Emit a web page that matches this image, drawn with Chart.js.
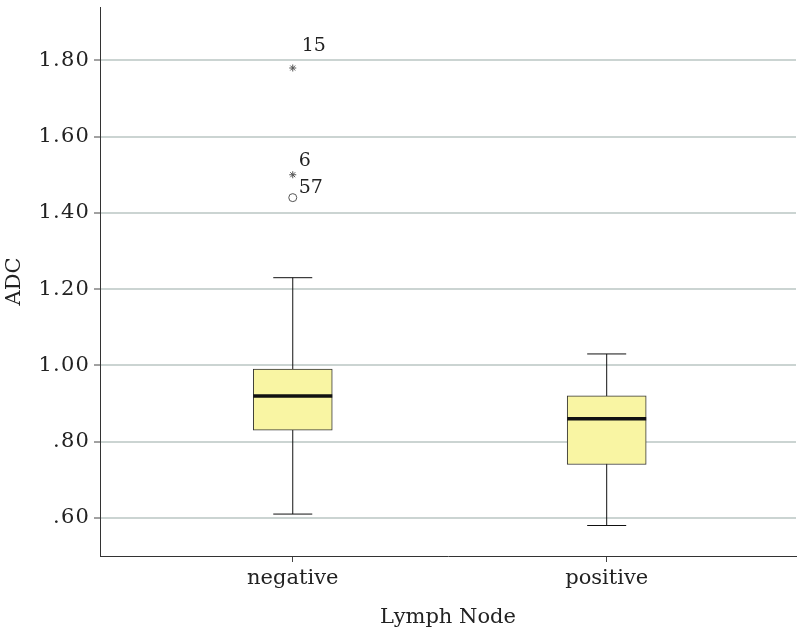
<!DOCTYPE html>
<html lang="en">
<head>
    <meta charset="UTF-8">
    <title>ADC by Lymph Node</title>
    <script src="https://cdn.jsdelivr.net/npm/chart.js"></script>
    <style>
        body { margin: 0; background: #fff; }
        .container { width: 805px; height: 644px; }
    </style>
</head>
<body>
<div class="container">
    <canvas id="boxChart" width="805" height="644"></canvas>
</div>

<script>
    // box plot summary per group
    const groups = ['negative', 'positive'];
    const whiskerLow = [0.61, 0.58];
    const q1 = [0.83, 0.74];
    const median = [0.92, 0.86];
    const q3 = [0.99, 0.92];
    const whiskerHigh = [1.23, 1.03];

    // outliers (group index, value, case label)
    const outlierGroup = [0, 0, 0];
    const outlierValue = [1.78, 1.50, 1.44];
    const outlierCase = ['15', '6', '57'];
    const outlierExtreme = [true, true, false];

    const yTicks = [0.6, 0.8, 1.0, 1.2, 1.4, 1.6, 1.8];

    const FONT = "'DejaVu Serif', serif";
    const ink = '#222';

    // label offsets for the outlier case numbers
    const labelOffset = [[9, -22], [6, -14], [6, -10]];

    const outlierLabels = {
        id: 'outlierLabels',
        beforeDraw(chart) {
            // y tick labels in the original are set wide, add a bit of spacing
            const y = chart.scales.y;
            if (!y._spaced) {
                const orig = y.drawLabels.bind(y);
                y.drawLabels = function (area) {
                    chart.ctx.save();
                    chart.ctx.letterSpacing = '1.2px';
                    orig(area);
                    chart.ctx.restore();
                };
                y._spaced = true;
            }
        },
        afterDatasetsDraw(chart) {
            const idx = chart.data.datasets.findIndex(d => d.label === 'outliers');
            const meta = chart.getDatasetMeta(idx);
            const ctx = chart.ctx;
            ctx.save();
            ctx.font = '19px ' + FONT;
            ctx.fillStyle = ink;
            ctx.textAlign = 'left';
            ctx.textBaseline = 'middle';
            meta.data.forEach((pt, i) => {
                ctx.fillText(outlierCase[i], pt.x + labelOffset[i][0], pt.y + labelOffset[i][1]);
            });
            ctx.restore();
        }
    };

    const whiskerSets = groups.map((g, i) => ({
        type: 'line',
        label: 'whisker ' + g,
        data: [{x: i, y: whiskerLow[i]}, {x: i, y: whiskerHigh[i]}],
        borderColor: '#111',
        borderWidth: 1,
        pointRadius: 0,
        order: 5
    }));

    const ctx = document.getElementById('boxChart').getContext('2d');
    new Chart(ctx, {
        type: 'bar',
        data: {
            datasets: [
                ...whiskerSets,
                {
                    type: 'bar',
                    label: 'box',
                    data: groups.map((g, i) => ({x: i, y: [q1[i], q3[i]]})),
                    backgroundColor: '#f9f5a3',
                    borderColor: '#333',
                    borderWidth: 1,
                    borderSkipped: false,
                    barThickness: 79,
                    order: 4
                },
                {
                    type: 'scatter',
                    label: 'median',
                    data: groups.map((g, i) => ({x: i, y: median[i]})),
                    pointStyle: 'line',
                    pointRadius: 39.5,
                    borderColor: '#111',
                    borderWidth: 3.5,
                    order: 3
                },
                {
                    type: 'scatter',
                    label: 'caps',
                    data: groups.flatMap((g, i) => [{x: i, y: whiskerLow[i]}, {x: i, y: whiskerHigh[i]}]),
                    pointStyle: 'line',
                    pointRadius: 19.5,
                    borderColor: '#111',
                    borderWidth: 1,
                    order: 2
                },
                {
                    type: 'scatter',
                    label: 'outliers',
                    data: outlierValue.map((v, i) => ({x: outlierGroup[i], y: v})),
                    pointStyle: outlierExtreme.map(e => e ? 'star' : 'circle'),
                    pointRadius: outlierExtreme.map(e => e ? 3.5 : 4),
                    borderColor: '#555',
                    backgroundColor: '#fff',
                    borderWidth: 1,
                    order: 1
                }
            ]
        },
        options: {
            responsive: false,
            animation: false,
            layout: { autoPadding: false, padding: { top: 7, right: 9, left: 0, bottom: 0 } },
            plugins: {
                legend: { display: false },
                tooltip: { enabled: false }
            },
            scales: {
                x: {
                    type: 'linear',
                    offset: false,
                    min: -0.614,
                    max: 1.603,
                    afterBuildTicks: scale => { scale.ticks = groups.map((g, i) => ({value: i})); },
                    afterFit: scale => { scale.height = 88; },
                    ticks: {
                        callback: v => groups[v],
                        color: ink,
                        font: { family: FONT, size: 21 },
                        padding: 4,
                        maxRotation: 0
                    },
                    grid: { offset: false, drawOnChartArea: false, drawTicks: true, tickLength: 6, tickColor: '#444' },
                    border: { color: '#333', width: 1 },
                    title: {
                        display: true,
                        text: 'Lymph Node',
                        color: ink,
                        font: { family: FONT, size: 21 },
                        padding: { top: 0, bottom: 14 }
                    }
                },
                y: {
                    min: 0.5,
                    max: 1.94,
                    afterBuildTicks: scale => { scale.ticks = yTicks.map(v => ({value: v})); },
                    afterFit: scale => {
                        scale.width = 100;
                        scale.paddingTop = 0;
                        scale.paddingBottom = 0;
                    },
                    ticks: {
                        callback: v => v.toFixed(2).replace(/^0/, ''),
                        color: ink,
                        font: { family: FONT, size: 21 },
                        padding: 4
                    },
                    grid: { color: '#cbd4d2', lineWidth: 2, tickLength: 6, tickColor: '#444', tickWidth: 1 },
                    border: { color: '#333', width: 1 },
                    title: {
                        display: true,
                        text: 'ADC',
                        color: ink,
                        font: { family: FONT, size: 21 },
                        padding: { top: 2, bottom: 0 }
                    }
                }
            }
        },
        plugins: [outlierLabels]
    });
</script>
</body>
</html>
